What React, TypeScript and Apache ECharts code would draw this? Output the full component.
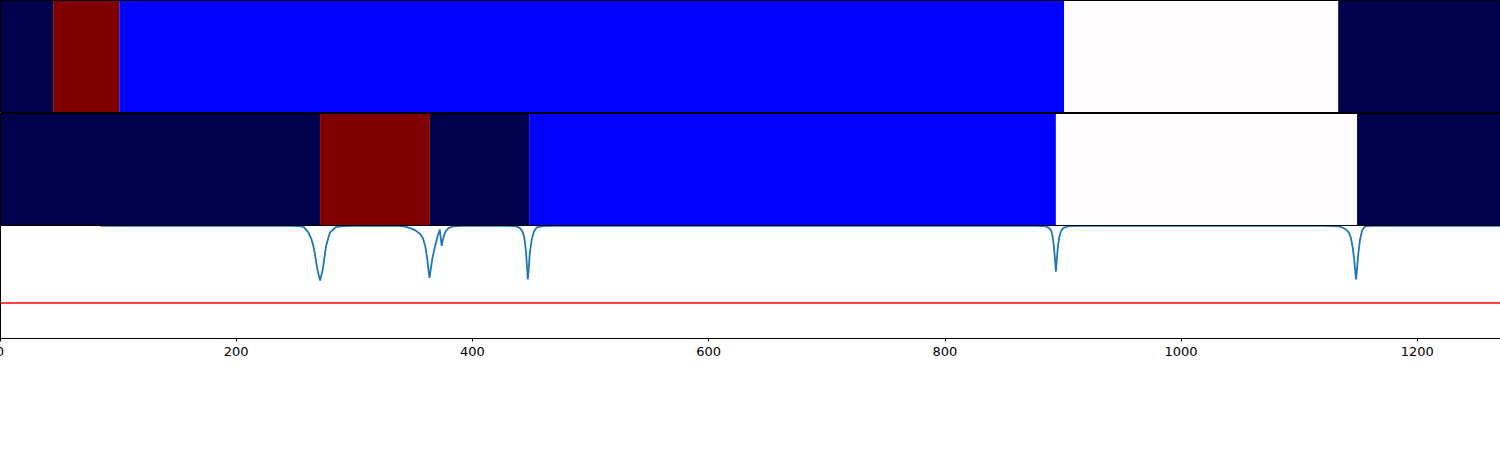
import React, { useEffect, useRef } from "react";
import * as echarts from "echarts";

// ---- data ----
const X_MIN = 0;
const X_MAX = 1270;
const xTickValues = [0, 200, 400, 600, 800, 1000, 1200];

// band rows: edges along x, and a level per segment (seismic colormap levels)
const row1Edges = [0, 45, 101, 901, 1133, 1270];
const row1Levels = [0, 1, 0.25, 0.5, 0];
const row2Edges = [0, 271, 364, 448, 894, 1149, 1270];
const row2Levels = [0, 1, 0, 0.25, 0.5, 0];

const thresholdValue = 0.31;

const signalPoints: [number, number][] = [
  [85, 0.993], [245, 0.993], [252, 0.99], [257, 0.983], [261.1, 0.935], [263.5, 0.88],
  [265.3, 0.815], [267, 0.72], [268.7, 0.607], [271, 0.509], [273.3, 0.607], [274.8, 0.72],
  [276.1, 0.815], [277.8, 0.88], [279.5, 0.935], [284.5, 0.983], [292, 0.991], [300, 0.993],
  [330, 0.993], [338, 0.992], [343, 0.985], [348, 0.97], [352, 0.95], [355.7, 0.92],
  [358, 0.885], [360, 0.815], [361.5, 0.72], [362.8, 0.6], [363.6, 0.533], [364.6, 0.6],
  [366, 0.7], [368.4, 0.815], [370.5, 0.9], [372.4, 0.96], [373.2, 0.88], [374, 0.815],
  [375, 0.87], [376.3, 0.92], [377.7, 0.95], [380, 0.975], [384, 0.988], [392, 0.993],
  [430, 0.993], [437.6, 0.988], [440.5, 0.97], [442.5, 0.94], [444, 0.88], [445.2, 0.78],
  [446.2, 0.63], [446.9, 0.518], [447.7, 0.62], [448.6, 0.76], [450.3, 0.875], [452, 0.94],
  [454.5, 0.98], [460, 0.991], [470, 0.993],
  [875, 0.993], [885, 0.99], [888, 0.975], [890, 0.95], [891.2, 0.9], [892.2, 0.82],
  [893.2, 0.7], [894, 0.587], [894.8, 0.7], [895.8, 0.82], [897, 0.9], [898.5, 0.95],
  [900.5, 0.975], [904.7, 0.99], [915, 0.993],
  [1120, 0.993], [1130, 0.991], [1135, 0.985], [1139, 0.965], [1141.9, 0.935], [1143.8, 0.885],
  [1145.3, 0.8], [1146.5, 0.7], [1147.4, 0.6], [1148.1, 0.518], [1148.9, 0.6], [1149.6, 0.7],
  [1150.3, 0.77], [1151.5, 0.87], [1153.2, 0.95], [1155, 0.98], [1157.4, 0.99], [1165, 0.993],
  [1270, 0.993],
];

// ---- styling helpers ----
function seismic(v: number): string {
  // matplotlib "seismic" colormap stops
  const stops: [number, number[]][] = [
    [0, [0, 0, 0.3]],
    [0.25, [0, 0, 1]],
    [0.5, [1, 0.988, 0.992]],
    [0.75, [1, 0, 0]],
    [1, [0.5, 0, 0]],
  ];
  for (let i = 0; i < stops.length - 1; i++) {
    const [a, ca] = stops[i];
    const [b, cb] = stops[i + 1];
    if (v >= a && v <= b) {
      const t = (v - a) / (b - a);
      const c = ca.map((x, k) => Math.round((x + (cb[k] - x) * t) * 255));
      return `rgb(${c[0]},${c[1]},${c[2]})`;
    }
  }
  return "#000";
}

function segments(edges: number[], levels: number[]) {
  return levels.map((lv, i) => [edges[i], edges[i + 1], lv]);
}

const W = 1500;
const grids = [
  { top: 0, height: 112 },
  { top: 113, height: 112 },
  { top: 225, height: 113 },
];

export default function App() {
  const ref = useRef<HTMLDivElement>(null);
  useEffect(() => {
    if (!ref.current) return;
    const chart = echarts.init(ref.current, null, { renderer: "svg" });

    const bandRender = (params: any, api: any) => {
      const p0 = api.coord([api.value(0), 1]);
      const p1 = api.coord([api.value(1), 0]);
      return {
        type: "rect",
        shape: { x: p0[0], y: p0[1], width: p1[0] - p0[0], height: p1[1] - p0[1] },
        style: { fill: seismic(api.value(2)) },
      };
    };

    const hiddenX = (gi: number) => ({
      type: "value",
      gridIndex: gi,
      min: X_MIN,
      max: X_MAX,
      show: false,
    });

    chart.setOption({
      animation: false,
      backgroundColor: "#fff",
      grid: grids.map((g) => ({
        left: 0,
        width: W,
        top: g.top,
        height: g.height,
        show: false,
        containLabel: false,
        outerBoundsMode: "none",
      })),
      xAxis: [
        hiddenX(0),
        hiddenX(1),
        {
          type: "value",
          gridIndex: 2,
          min: X_MIN,
          max: X_MAX,
          interval: 200,
          splitLine: { show: false },
          axisLine: { show: true, lineStyle: { color: "#000", width: 1 } },
          axisTick: {
            show: true,
            length: 3.5,
            lineStyle: { color: "#000", width: 1 },
            customValues: xTickValues,
          },
          axisLabel: {
            color: "#000",
            fontSize: 13,
            fontFamily: "DejaVu Sans",
            margin: 7,
            customValues: xTickValues,
            formatter: (v: number) => String(v),
          },
        },
      ],
      yAxis: [0, 1, 2].map((gi) => ({
        type: "value",
        gridIndex: gi,
        min: 0,
        max: 1,
        show: false,
      })),
      series: [
        {
          type: "custom",
          xAxisIndex: 0,
          yAxisIndex: 0,
          renderItem: bandRender,
          encode: { x: [0, 1] },
          data: segments(row1Edges, row1Levels),
        },
        {
          type: "custom",
          xAxisIndex: 1,
          yAxisIndex: 1,
          renderItem: bandRender,
          encode: { x: [0, 1] },
          data: segments(row2Edges, row2Levels),
        },
        {
          type: "line",
          xAxisIndex: 2,
          yAxisIndex: 2,
          data: [
            [X_MIN, thresholdValue],
            [X_MAX, thresholdValue],
          ],
          symbol: "none",
          lineStyle: { color: "#ff0000", width: 1.5 },
          silent: true,
        },
        {
          type: "line",
          xAxisIndex: 2,
          yAxisIndex: 2,
          data: signalPoints,
          symbol: "none",
          smooth: false,
          lineStyle: { color: "#1f77b4", width: 1.8 },
          silent: true,
        },
      ],
      graphic: grids.map((g) => ({
        type: "rect",
        z: 100,
        silent: true,
        shape: { x: 0.5, y: g.top + 0.5, width: W, height: g.height },
        style: { fill: "none", stroke: "#000", lineWidth: 1 },
      })),
    });
    return () => chart.dispose();
  }, []);
  return (
    <div
      ref={ref}
      style={{ position: "absolute", left: 0, top: 0, width: 1500, height: 450 }}
    />
  );
}
